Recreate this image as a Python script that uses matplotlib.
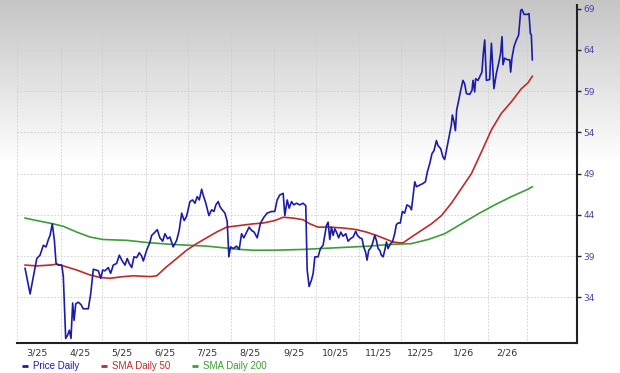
import matplotlib.pyplot as plt
from matplotlib.lines import Line2D
import numpy as np
import pandas as pd

# Fechas: días desde el 1 de marzo de 2025
start = pd.Timestamp('2025-03-01')

price_days = [5.6, 9.2, 14.0, 16.3, 18.7, 20.6, 22.3, 23.5, 25.1, 26.6, 27.8, 29.4, 31.9, 33.0,
              34.7, 36.1, 37.3, 38.5, 39.7, 40.7, 41.9, 43.7, 45.7, 47.3, 50.9, 52.6, 54.5, 56.4,
              58.1, 59.8, 61.2, 62.8, 65.2, 66.9, 68.8, 71.2, 73.1, 75.2, 77.2, 78.8, 80.2, 82.0,
              83.6, 85.5, 87.4, 89.1, 90.3, 92.7, 95.1, 96.3, 98.7, 100.3, 102.2, 104.2, 105.8,
              107.7, 109.4, 111.7, 114.2, 116.0, 117.8, 119.6, 121.3, 123.7, 125.6, 127.3, 128.9,
              130.4, 132.1, 133.2, 135.1, 137.3, 139.2, 140.9, 142.3, 144.0, 145.2, 146.4, 148.8,
              150.4, 151.6, 152.8, 154.7, 157.1, 159.0, 160.7, 162.3, 164.3, 166.1, 167.9, 169.7,
              171.9, 174.3, 176.7, 179.0, 182.2, 184.5, 186.2, 188.1, 190.5, 191.7, 193.4, 194.8,
              196.5, 198.1, 200.1, 202.4, 204.8, 206.7, 207.7, 209.1, 210.8, 212.0, 213.2, 215.5,
              217.2, 219.1, 220.3, 221.5, 222.7, 223.9, 225.1, 226.3, 227.5, 228.7, 230.3, 231.8,
              233.4, 235.4, 237.0, 238.7, 240.6, 242.5, 243.7, 245.4, 247.0, 248.2, 249.5, 250.6,
              251.8, 253.3, 254.5, 256.1, 257.3, 258.5, 259.7, 260.9, 262.1, 263.3, 264.5, 265.6,
              267.4, 268.8, 270.4, 271.6, 272.8, 274.4, 275.9, 277.5, 279.2, 281.2, 282.4, 283.5,
              284.8, 286.0, 288.3, 290.7, 292.4, 293.8, 295.5, 297.1, 298.6, 300.3, 301.4, 303.4,
              305.0, 306.2, 307.9, 309.3, 311.0, 311.7, 312.9, 313.9, 314.8, 316.3, 317.7, 319.3,
              320.5, 321.8, 324.1, 325.8, 326.5, 327.7, 328.4, 330.1, 331.8, 332.9, 333.9, 334.9,
              336.1, 338.4, 339.7, 341.5, 343.2, 344.9, 346.3, 347.3, 348.0, 349.2, 351.1, 352.8,
              353.5, 354.4, 355.9, 357.6, 359.2, 360.7, 361.6, 363.1, 365.5, 366.6, 367.6, 368.3,
              369.0]
price_vals = [37.5, 34.4, 38.7, 39.1, 40.3, 40.1, 41.0, 41.5, 42.9, 40.9, 38.1, 37.9, 37.9, 36.5,
              29.0, 29.4, 30.0, 29.0, 33.3, 31.2, 33.2, 33.4, 33.1, 32.6, 32.6, 34.4, 37.4, 37.3,
              37.2, 36.3, 37.3, 37.2, 37.6, 36.9, 37.9, 38.1, 39.1, 38.4, 37.9, 38.7, 38.1, 37.6,
              38.9, 38.8, 39.4, 39.0, 38.4, 39.7, 40.7, 41.5, 41.9, 42.2, 41.2, 40.8, 41.7,
              41.1, 41.3, 40.1, 40.9, 42.1, 44.2, 43.3, 43.8, 45.6, 45.8, 45.4, 46.2,
              45.8, 47.1, 46.4, 45.4, 43.9, 44.6, 44.4, 45.2, 45.6, 45.0, 44.7, 44.2,
              43.2, 38.9, 40.1, 39.9, 40.2, 39.8, 41.7, 41.2, 41.9, 42.5, 42.1, 41.9,
              41.2, 43.0, 43.7, 44.2, 44.4, 44.4, 45.8, 46.4, 46.6, 43.9, 45.8, 44.8,
              45.6, 45.2, 45.4, 45.2, 45.4, 45.1, 37.3, 35.3, 36.1, 36.9, 38.9, 38.9,
              39.9, 40.3, 41.5, 42.7, 43.1, 41.0, 42.5, 41.5, 42.3, 41.9, 41.2, 41.9,
              41.4, 41.7, 40.8, 41.1, 41.3, 42.0, 41.5, 41.2, 41.1, 40.1, 39.5, 38.5,
              39.7, 40.0, 40.5, 41.5, 40.9, 39.9, 39.7, 39.1, 38.9, 39.7, 40.7, 39.9,
              40.5, 40.7, 41.7, 42.8, 43.0, 43.0, 44.4, 44.2, 45.2, 45.0, 44.6, 46.2,
              48.0, 47.4, 47.6, 47.8, 48.0, 49.2, 50.2, 51.4, 51.8, 53.0, 52.4, 52.0,
              51.0, 50.7, 52.2, 53.5, 54.9, 56.1, 55.3, 54.2, 56.7, 57.9, 59.1, 60.3,
              59.9, 58.7, 58.6, 59.1, 60.3, 58.9, 60.5, 60.3, 60.9, 61.3, 63.6, 65.2,
              60.3, 60.4, 64.8, 59.3, 61.1, 62.4, 63.6, 65.6, 62.2, 63.0, 62.8, 62.8,
              61.3, 63.0, 64.4, 65.2, 65.8, 68.8, 68.9, 68.3, 68.3, 68.4, 66.0, 65.8,
              62.8]

sma50_days = [5.6, 14.0, 23.5, 28.3, 33.0, 42.6, 52.1, 59.3, 66.4, 75.9, 83.1, 95.1, 99.9, 107.0,
              114.2, 121.3, 128.5, 135.6, 142.8, 150.0, 159.5, 169.0, 176.2, 184.5, 190.5, 197.6,
              204.8, 209.6, 215.5, 223.9, 233.4, 243.0, 250.2, 257.3, 263.3, 269.2, 274.0, 276.4,
              282.4, 289.5, 296.7, 303.9, 311.0, 318.2, 325.4, 332.5, 339.7, 346.8, 354.0, 361.2,
              365.9, 369.0]
sma50_vals = [37.9, 37.8, 37.9, 38.0, 37.8, 37.3, 36.7, 36.4, 36.3, 36.5, 36.6, 36.5, 36.6, 37.7,
              38.7, 39.7, 40.5, 41.2, 41.9, 42.5, 42.7, 42.9, 43.0, 43.3, 43.7, 43.6,
              43.4, 42.9, 42.5, 42.5, 42.4, 42.2, 41.9, 41.5, 41.1, 40.7, 40.6, 40.6,
              41.3, 42.1, 42.9, 43.9, 45.4, 47.2, 49.0, 51.6, 54.3, 56.3, 57.7, 59.3,
              60.0, 60.8]

sma200_days = [5.6, 14.0, 25.8, 33.0, 42.6, 52.1, 61.6, 78.4, 95.1, 111.7, 135.6, 159.5, 169.0,
               184.5, 204.8, 228.7, 252.5, 266.9, 282.4, 294.3, 306.2, 318.2, 330.1, 342.1,
               354.0, 365.9, 369.0]
sma200_vals = [43.6, 43.3, 42.9, 42.6, 41.9, 41.3, 41.0, 40.9, 40.6, 40.4, 40.2, 39.8, 39.7,
               39.7, 39.8, 40.0, 40.2, 40.4, 40.5, 41.0, 41.7, 42.9, 44.1, 45.2,
               46.2, 47.1, 47.4]

month_labels = ['3/25', '4/25', '5/25', '6/25', '7/25', '8/25', '9/25', '10/25', '11/25',
                '12/25', '1/26', '2/26']
y_ticks = [34, 39, 44, 49, 54, 59, 64, 69]
series_names = ['Price Daily', 'SMA Daily 50', 'SMA Daily 200']

c_price, c_sma50, c_sma200 = '#1c1cab', '#bf2b2b', '#3b9f35'


def to_dates(days):
    return start + pd.to_timedelta(np.array(days), unit='D')


fig = plt.figure(figsize=(6.2, 3.73), dpi=100)

# Fondo con degradado gris -> blanco
bg = fig.add_axes([0, 0, 1, 1], zorder=0)
grad = np.clip(np.linspace(0.77, 1.29, 373), 0, 1)
bg.imshow(grad[:, None], cmap='gray', vmin=0, vmax=1, aspect='auto', extent=[0, 1, 0, 1])
bg.axis('off')

ax = fig.add_axes([16.7 / 620, 30 / 373, 560 / 620, 338 / 373], zorder=1)
ax.patch.set_alpha(0)

ax.plot(to_dates(sma200_days), sma200_vals, color=c_sma200, lw=1.2)
ax.plot(to_dates(sma50_days), sma50_vals, color=c_sma50, lw=1.2)
ax.plot(to_dates(price_days), price_vals, color=c_price, lw=1.2)

ax.set_xlim(start - pd.Timedelta(days=0.4), start + pd.Timedelta(days=400.8))
ax.set_ylim(28.45, 69.44)

# Eje X: etiquetas a mitad de mes, rejilla al inicio de cada mes
month_starts = pd.date_range('2025-03-01', '2026-03-01', freq='MS')
mid_months = month_starts[:-1] + pd.Timedelta(days=14)
ax.set_xticks(mid_months)
ax.set_xticklabels(month_labels)
ax.set_xticks(month_starts, minor=True)
ax.tick_params(axis='x', which='both', length=0, pad=4, labelsize=6.8, labelcolor='#333333')

# Eje Y a la derecha
ax.yaxis.tick_right()
ax.set_yticks(y_ticks)
ax.tick_params(axis='y', length=3, width=1, pad=2, labelsize=6.5,
               color='#222222', labelcolor='#4646a8')

ax.grid(True, which='minor', axis='x', color='#cccccc', ls=(0, (2, 2)), lw=0.6)
ax.grid(True, which='major', axis='y', color='#cccccc', ls=(0, (2, 2)), lw=0.6)

for s in ['left', 'top']:
    ax.spines[s].set_visible(False)
for s in ['right', 'bottom']:
    ax.spines[s].set_color('#222222')
    ax.spines[s].set_linewidth(1.5)

handles = [Line2D([], [], color=c, lw=2.0, solid_capstyle='butt')
           for c in (c_price, c_sma50, c_sma200)]
fig.legend(handles, series_names, loc='center left', bbox_to_anchor=(21.7 / 620, 7 / 373),
           ncol=3, frameon=False, prop={'family': 'Liberation Sans', 'size': 7},
           handlelength=0.62, handletextpad=0.55, columnspacing=2.2,
           borderpad=0, borderaxespad=0, labelcolor='linecolor')

fig.savefig('out.png', dpi=100)
